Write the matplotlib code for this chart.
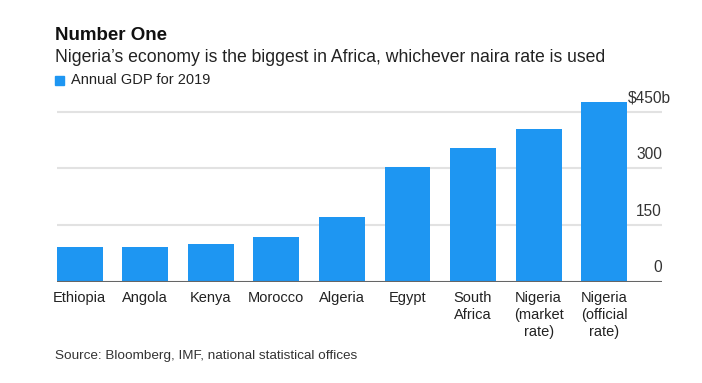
import matplotlib
matplotlib.use("Agg")
import matplotlib.pyplot as plt
from matplotlib.patches import Rectangle
import matplotlib.transforms as mtransforms

categories = ["Ethiopia", "Angola", "Kenya", "Morocco", "Algeria", "Egypt",
              "South\nAfrica", "Nigeria\n(market\nrate)", "Nigeria\n(official\nrate)"]
gdp = [92, 91, 99, 117, 172, 304, 353, 403, 476]
yticks = [0, 150, 300, 450]
ytick_labels = ["0", "150", "300", "$450b"]

plt.rcParams['font.family'] = ['Liberation Sans', 'DejaVu Sans']
BLUE = '#1e96f2'

fig = plt.figure(figsize=(7.02, 3.83), dpi=100)
ax = fig.add_axes([0.0808, 0.2645, 0.862, 0.4736])
x = list(range(len(categories)))
ax.bar(x, gdp, width=0.70, color=BLUE, zorder=3)
ax.set_xlim(-0.35, 8.88)
ax.set_ylim(0, 480)
for s in ax.spines.values():
    s.set_visible(False)
ax.set_yticks([])
ax.set_xticks(x)
ax.set_xticklabels(categories, fontsize=10.5, color='#222222', linespacing=1.25)
ax.tick_params(axis='x', length=0, pad=7)

tick_fs = 11.2
for t, lab in zip(yticks, ytick_labels):
    if t == 0:
        ax.axhline(0, color='#666666', lw=1.5, zorder=4)
    else:
        ax.axhline(t, color='#e2e2e2', lw=1.5, zorder=1)
    # numeric part right-aligned with the axis end; a trailing unit letter overhangs
    dx = 0.556 * tick_fs if lab.endswith('b') else 0
    trans = mtransforms.offset_copy(ax.transData, fig=fig, x=dx, y=10, units='points')
    ax.text(8.88, t, lab, transform=trans,
            ha='right', va='center', fontsize=tick_fs, color='#333333')

fig.text(55/702, 1 - 35/383, "Number One", fontsize=13.5, fontweight='bold',
         color='#111111', va='center', ha='left')
fig.text(55/702, 1 - 58/383, "Nigeria\u2019s economy is the biggest in Africa, whichever naira rate is used",
         fontsize=12.7, color='#222222', va='center', ha='left')
fig.patches.append(Rectangle((55/702, 1 - 85/383), 9/702, 9/383, transform=fig.transFigure,
                             color=BLUE, figure=fig))
fig.text(71/702, 1 - 80/383, "Annual GDP for 2019", fontsize=10.5, color='#222222',
         va='center', ha='left')
fig.text(55/702, 1 - 356/383, "Source: Bloomberg, IMF, national statistical offices",
         fontsize=9.7, color='#333333', va='center', ha='left')

fig.savefig("out.png", dpi=100)
